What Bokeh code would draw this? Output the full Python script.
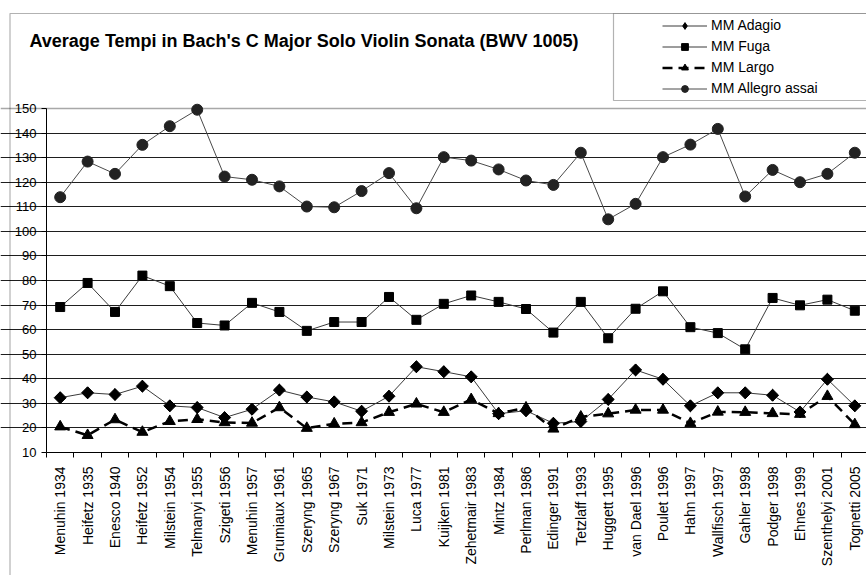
from bokeh.plotting import figure
from bokeh.models import (Range1d, FixedTicker, Legend, LegendItem, Label,
                          BoxAnnotation, Grid, ColumnDataSource)
from bokeh.embed import file_html
from bokeh.resources import INLINE
import numpy as np

# ---------------- data ----------------
performers = ["Menuhin 1934", "Heifetz 1935", "Enesco 1940", "Heifetz 1952",
              "Milstein 1954", "Telmanyi 1955", "Szigeti 1956", "Menuhin 1957",
              "Grumiaux 1961", "Szeryng 1965", "Szeryng 1967", "Suk 1971",
              "Milstein 1973", "Luca 1977", "Kuijken 1981", "Zehetmair 1983",
              "Mintz 1984", "Perlman 1986", "Edinger 1991", "Tetzlaff 1993",
              "Huggett 1995", "van Dael 1996", "Poulet 1996", "Hahn 1997",
              "Wallfisch 1997", "Gahler 1998", "Podger 1998", "Ehnes 1999",
              "Szenthelyi 2001", "Tognetti 2005"]

adagio = [32.3, 34.3, 33.6, 37.0, 29.0, 28.3, 24.2, 27.6, 35.4, 32.6,
          30.6, 26.8, 32.9, 44.9, 42.9, 40.8, 25.8, 27.0, 21.9, 22.6,
          31.6, 43.6, 39.8, 29.0, 34.3, 34.3, 33.3, 26.5, 39.8, 29.0]

fuga = [69.2, 79.0, 67.2, 82.0, 77.7, 62.7, 61.7, 70.9, 67.2, 59.5,
        63.1, 63.1, 73.3, 64.0, 70.5, 73.9, 71.3, 68.4, 58.8, 71.3,
        56.5, 68.5, 75.6, 61.0, 58.6, 52.0, 72.9, 69.9, 72.2, 67.7]

largo = [20.5, 17.0, 23.4, 18.3, 22.7, 23.5, 22.2, 22.0, 28.3, 19.9,
         21.7, 22.2, 26.4, 29.8, 26.4, 31.6, 25.9, 28.2, 19.6, 24.5,
         25.8, 27.3, 27.3, 21.9, 26.5, 26.4, 25.9, 25.6, 32.9, 21.4]

allegro = [113.9, 128.4, 123.4, 135.2, 142.8, 149.5, 122.3, 121.0, 118.3, 110.1,
           109.8, 116.4, 123.7, 109.4, 130.2, 128.8, 125.2, 120.7, 118.9, 132.0,
           104.9, 111.2, 130.2, 135.3, 141.7, 114.2, 125.0, 120.0, 123.4, 132.0]

y_ticks = [10, 20, 30, 40, 50, 60, 70, 80, 90, 100, 110, 120, 130, 140, 150]
series_names = ["MM Adagio", "MM Fuga", "MM Largo", "MM Allegro assai"]
title_text = "Average Tempi in Bach's C Major Solo Violin Sonata (BWV 1005)"

# ---------------- layout (pixels on the canvas) ----------------
W, H = 866, 575
PL, PT, PB = 46, 108, 452          # plot-area left / top / bottom on canvas
CAT_W = 27.4                       # pixel width of one category
FONT = "Liberation Sans"

n = len(performers)
x = np.arange(n) + 0.5
ymin, ymax = y_ticks[0], y_ticks[-1]

# ranges chosen so that the frame covers the whole canvas
ppy = (PB - PT) / (ymax - ymin)
x_range = Range1d(-PL / CAT_W, (W - PL) / CAT_W)
y_range = Range1d(ymin - (H - PB) / ppy, ymax + PT / ppy)

p = figure(width=W, height=H, output_backend="svg", toolbar_location=None,
           x_range=x_range, y_range=y_range,
           min_border_left=0, min_border_right=0, min_border_top=0,
           min_border_bottom=0)
p.outline_line_color = None
p.background_fill_color = "white"
p.border_fill_color = "white"

# grid
p.xgrid.visible = False
p.ygrid.ticker = FixedTicker(ticks=y_ticks[1:-1])
p.ygrid.grid_line_color = "#1e1e1e"
p.ygrid.grid_line_width = 1
p.ygrid.bounds = (0, n)
p.add_layout(Grid(dimension=1, ticker=FixedTicker(ticks=[ymax]), bounds=(0, n),
                  grid_line_color="#a8a8a8", grid_line_width=1.5))

# y axis
yax = p.yaxis[0]
yax.fixed_location = 0
yax.bounds = (ymin, ymax)
yax.ticker = FixedTicker(ticks=y_ticks)
yax.major_tick_out = 5
yax.major_tick_in = 0
yax.minor_tick_line_color = None
yax.axis_line_color = "black"
yax.major_tick_line_color = "black"
yax.major_label_text_font = FONT
yax.major_label_text_font_size = "13px"
yax.major_label_text_color = "black"
yax.major_label_standoff = 5

# x axis (labels at centres, ticks at category boundaries)
xax = p.xaxis[0]
xax.fixed_location = ymin
xax.bounds = (0, n)
xax.ticker = FixedTicker(ticks=list(x), minor_ticks=list(range(n + 1)))
xax.major_label_overrides = {float(xx): name for xx, name in zip(x, performers)}
xax.major_tick_out = 0
xax.major_tick_in = 0
xax.minor_tick_out = 5
xax.minor_tick_in = 0
xax.minor_tick_line_color = "black"
xax.axis_line_color = "black"
xax.major_label_orientation = np.pi / 2
xax.major_label_text_font = FONT
xax.major_label_text_font_size = "14px"
xax.major_label_text_color = "black"
xax.major_label_standoff = 9

# outer chart border and legend box (screen units from canvas bottom-left)
p.add_layout(BoxAnnotation(left=9.5, right=W + 50, top=H - 13, bottom=-50,
                           left_units="screen", right_units="screen",
                           top_units="screen", bottom_units="screen",
                           fill_alpha=0, line_color="black", line_width=1.2,
                           level="underlay"))
p.add_layout(BoxAnnotation(left=613, right=W + 50, top=H - 13, bottom=H - 100,
                           left_units="screen", right_units="screen",
                           top_units="screen", bottom_units="screen",
                           fill_color="white", fill_alpha=1,
                           line_color="black", line_width=1.2,
                           level="underlay"))

# series
src = ColumnDataSource(dict(x=x, adagio=adagio, fuga=fuga, largo=largo,
                            allegro=allegro))
LINE_C = "#3a3a3a"
r_a_l = p.line("x", "adagio", source=src, line_color=LINE_C, line_width=1)
# narrow diamond (used as the legend key) hidden beneath the square diamonds
r_a_key = p.scatter("x", "adagio", source=src, marker="diamond", size=11.5,
                    fill_color="black", line_color="black")
r_a_m = p.scatter("x", "adagio", source=src, marker="square", angle=np.pi / 4,
                  size=8.5, fill_color="black", line_color="black")
r_f_l = p.line("x", "fuga", source=src, line_color=LINE_C, line_width=1)
r_f_m = p.scatter("x", "fuga", source=src, marker="square", size=9,
                  fill_color="black", line_color="black")
r_l_l = p.line("x", "largo", source=src, line_color="black", line_width=2.5,
               line_dash="10 6")
r_l_m = p.scatter("x", "largo", source=src, marker="triangle", size=11,
                  fill_color="black", line_color="black")
r_g_l = p.line("x", "allegro", source=src, line_color="#4a4a4a", line_width=1)
r_g_m = p.scatter("x", "allegro", source=src, marker="circle", size=11,
                  fill_color="#222222", line_color="#222222")

legend = Legend(items=[
    LegendItem(label=series_names[0], renderers=[r_a_l, r_a_key]),
    LegendItem(label=series_names[1], renderers=[r_f_l, r_f_m]),
    LegendItem(label=series_names[2], renderers=[r_l_l, r_l_m]),
    LegendItem(label=series_names[3], renderers=[r_g_l, r_g_m]),
], location=(662, H - 96.5), padding=0, margin=0,
    border_line_color=None, background_fill_alpha=0,
    glyph_width=45, glyph_height=17, label_height=17, spacing=4,
    label_standoff=4, label_text_font=FONT, label_text_font_size="14px",
    label_text_color="black")
p.add_layout(legend)

p.add_layout(Label(x=29, y=H - 40, x_units="screen", y_units="screen",
                   text=title_text, text_font=FONT, text_font_style="bold",
                   text_font_size="18px", text_color="black",
                   text_baseline="middle", text_align="left"))

open("out.html", "w").write(file_html(p, INLINE))
